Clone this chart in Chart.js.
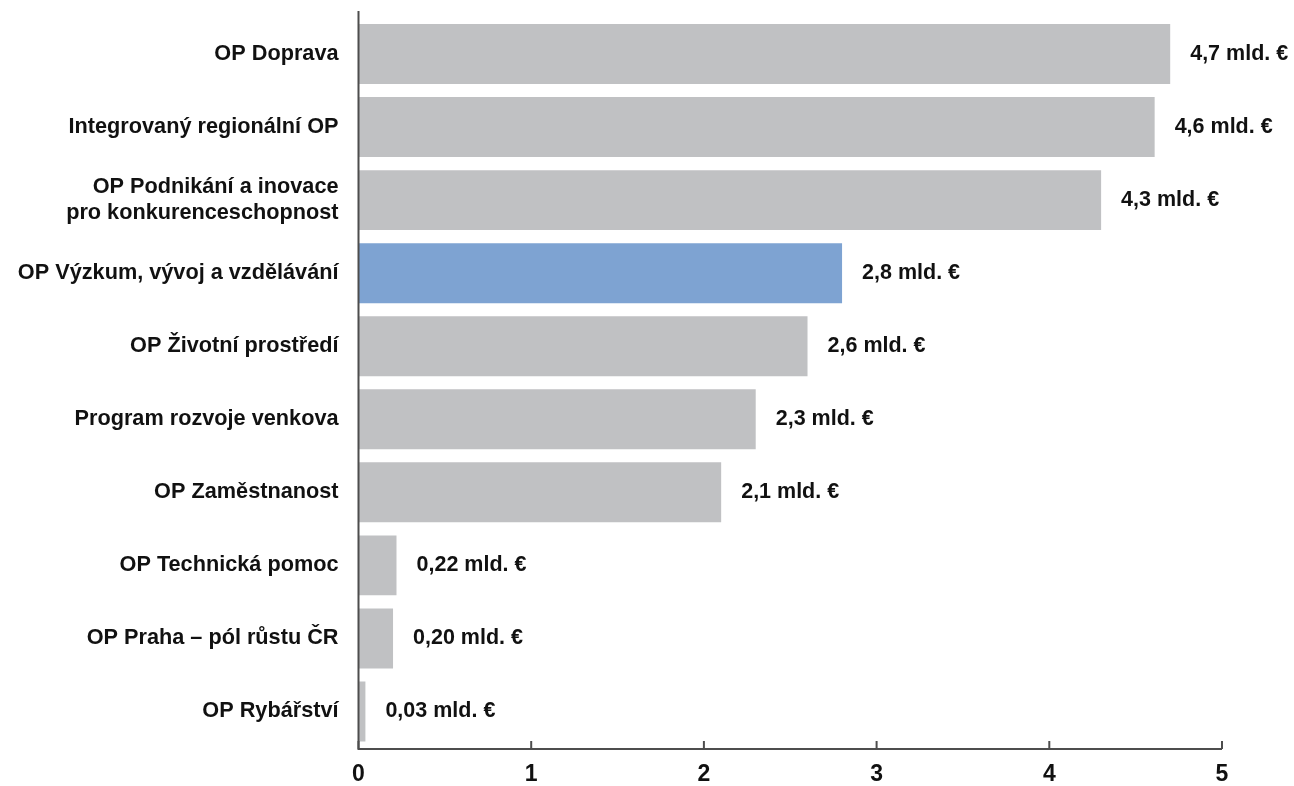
<!DOCTYPE html>
<html>
<head>
<meta charset="utf-8">
<script src="https://cdn.jsdelivr.net/npm/chart.js@4"></script>
<style>
  html, body { margin: 0; padding: 0; background: #fff; }
  #wrap { width: 1294px; height: 786px; position: relative; }
</style>
</head>
<body>
<div id="wrap"><canvas id="opChart"></canvas></div>
<script>
const programmes = [
    'OP Doprava',
    'Integrovaný regionální OP',
    ['OP Podnikání a inovace', 'pro konkurenceschopnost'],
    'OP Výzkum, vývoj a vzdělávání',
    'OP Životní prostředí',
    'Program rozvoje venkova',
    'OP Zaměstnanost',
    'OP Technická pomoc',
    'OP Praha – pól růstu ČR',
    'OP Rybářství'
];
const allocation = [4.7, 4.61, 4.3, 2.8, 2.6, 2.3, 2.1, 0.22, 0.2, 0.04];
const allocationLabels = ['4,7 mld. €', '4,6 mld. €', '4,3 mld. €', '2,8 mld. €', '2,6 mld. €',
    '2,3 mld. €', '2,1 mld. €', '0,22 mld. €', '0,20 mld. €', '0,03 mld. €'];
const xTicks = [0, 1, 2, 3, 4, 5];

const FONT = '"Liberation Sans", Arial, Helvetica, sans-serif';
const GREY = '#c0c1c3';
const BLUE = '#7ea3d2';
const AXIS = '#4d4d4d';

// blue highlight for OP VVV, rest grey
const barColors = programmes.map((_, i) => i === 3 ? BLUE : GREY);

// axis lines, inward tick marks and value labels
const axesAndLabels = {
    id: 'axesAndLabels',
    afterDraw(chart) {
        const ctx = chart.ctx;
        const x = chart.scales.x;
        const area = chart.chartArea;
        const x0 = x.getPixelForValue(0);
        const axisY = area.bottom + 1;

        ctx.save();
        ctx.strokeStyle = AXIS;
        ctx.lineWidth = 2;
        ctx.beginPath();
        ctx.moveTo(x0, 11);
        ctx.lineTo(x0, axisY);
        ctx.lineTo(x.getPixelForValue(5), axisY);
        ctx.stroke();

        xTicks.forEach(t => {
            const px = x.getPixelForValue(t);
            ctx.beginPath();
            ctx.moveTo(px, axisY - 8);
            ctx.lineTo(px, axisY);
            ctx.stroke();
        });

        ctx.fillStyle = '#111';
        ctx.font = 'bold 21.5px ' + FONT;
        ctx.textAlign = 'left';
        ctx.textBaseline = 'middle';
        chart.getDatasetMeta(0).data.forEach((bar, i) => {
            ctx.fillText(allocationLabels[i], bar.x + 20, bar.y);
        });
        ctx.restore();
    }
};

new Chart(document.getElementById('opChart'), {
    type: 'bar',
    data: {
        labels: programmes,
        datasets: [{
            data: allocation,
            backgroundColor: barColors,
            borderWidth: 0,
            barPercentage: 0.82,
            categoryPercentage: 1
        }]
    },
    options: {
        indexAxis: 'y',
        responsive: true,
        maintainAspectRatio: false,
        animation: false,
        layout: { padding: { top: 17.5, right: 72, left: 0, bottom: 0 } },
        plugins: {
            legend: { display: false },
            tooltip: { enabled: false }
        },
        scales: {
            x: {
                min: 0,
                max: 5,
                afterFit: s => { s.height = 38; },
                afterBuildTicks: s => { s.ticks = xTicks.map(v => ({ value: v })); },
                grid: { display: false, drawTicks: false },
                border: { display: false },
                ticks: {
                    padding: 13,
                    color: '#111',
                    font: { family: FONT, size: 23, weight: 'bold' }
                }
            },
            y: {
                afterFit: s => {
                    s.width = 358.5;
                    s.paddingTop = 0;
                    s.paddingBottom = 0;
                },
                grid: { display: false, drawTicks: false },
                border: { display: false },
                ticks: {
                    padding: 20,
                    color: '#111',
                    font: { family: FONT, size: 21.7, weight: 'bold', lineHeight: 1.17 }
                }
            }
        }
    },
    plugins: [axesAndLabels]
});
</script>
</body>
</html>
